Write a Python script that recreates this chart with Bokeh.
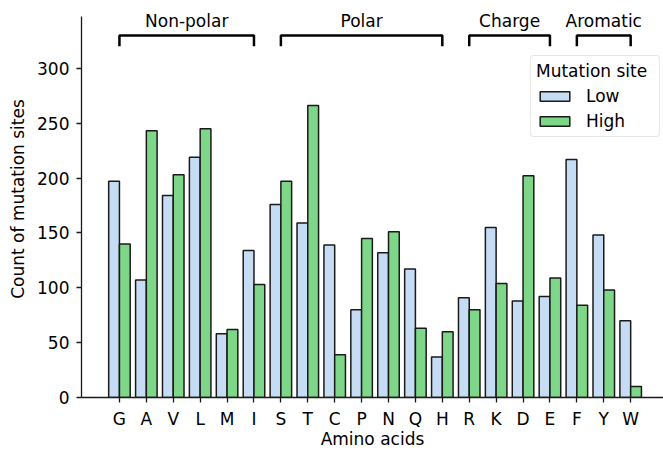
import numpy as np
from bokeh.plotting import figure
from bokeh.models import Range1d, FixedTicker, Legend, LegendItem, ColumnDataSource
from bokeh.core.properties import value
from bokeh.embed import file_html
from bokeh.resources import INLINE

categories = ["G", "A", "V", "L", "M", "I", "S", "T", "C", "P",
              "N", "Q", "H", "R", "K", "D", "E", "F", "Y", "W"]
low = [197, 107, 184, 219, 58, 134, 176, 159, 139, 80,
       132, 117, 37, 91, 155, 88, 92, 217, 148, 70]
high = [140, 243, 203, 245, 62, 103, 197, 266, 39, 145,
        151, 63, 60, 80, 104, 202, 109, 84, 98, 10]
group_names = ["Non-polar", "Polar", "Charge", "Aromatic"]
group_first = ["G", "S", "R", "F"]
group_last = ["I", "H", "E", "W"]

FONT = "DejaVu Sans"
FS = "17px"
LOW_COLOR = "#c5dcf4"
HIGH_COLOR = "#7ed789"
EDGE = "#1a1a1a"

idx = np.arange(len(categories))

p = figure(width=663, height=451, output_backend="svg", toolbar_location=None,
           x_range=Range1d(-1.41, 20.22), y_range=Range1d(0, 361.8),
           min_border_left=81, min_border_right=0, min_border_top=0,
           min_border_bottom=53)
p.outline_line_color = None
p.xgrid.visible = False
p.ygrid.visible = False
p.background_fill_color = "white"

src_low = ColumnDataSource(dict(x=idx - 0.2, top=low))
src_high = ColumnDataSource(dict(x=idx + 0.2, top=high))
r_low = p.vbar(x="x", top="top", width=0.4, bottom=0, source=src_low,
               fill_color=LOW_COLOR, line_color=EDGE, line_width=1.5)
r_high = p.vbar(x="x", top="top", width=0.4, bottom=0, source=src_high,
                fill_color=HIGH_COLOR, line_color=EDGE, line_width=1.5)

# group brackets
xs, ys = [], []
for a, b in zip(group_first, group_last):
    i0 = categories.index(a)
    i1 = categories.index(b)
    xs.append([i0, i0, i1, i1])
    ys.append([320, 330, 330, 320])
p.multi_line(xs=xs, ys=ys, line_color="black", line_width=2.5)
centers = [(categories.index(a) + categories.index(b)) / 2 for a, b in zip(group_first, group_last)]
p.text(x=centers, y=[343.5] * len(centers), text=group_names,
       text_font=value(FONT), text_font_size=FS, text_align="center",
       text_baseline="middle", text_color="black")

# axes
for ax in (p.xaxis[0], p.yaxis[0]):
    ax.axis_line_color = EDGE
    ax.axis_line_width = 1.3
    ax.major_tick_line_color = EDGE
    ax.major_tick_line_width = 1.3
    ax.major_tick_out = 5
    ax.major_tick_in = 0
    ax.minor_tick_line_color = None
    ax.major_label_text_font = FONT
    ax.major_label_text_font_size = FS
    ax.major_label_text_color = "black"
    ax.axis_label_text_font = FONT
    ax.axis_label_text_font_size = FS
    ax.axis_label_text_font_style = "normal"
    ax.axis_label_text_color = "black"

p.xaxis[0].ticker = FixedTicker(ticks=list(idx))
p.xaxis[0].major_label_overrides = {int(i): c for i, c in zip(idx, categories)}
p.xaxis[0].axis_label = "Amino acids"
p.xaxis[0].major_label_standoff = 6
p.xaxis[0].axis_label_standoff = -3

p.yaxis[0].ticker = FixedTicker(ticks=[0, 50, 100, 150, 200, 250, 300])
p.yaxis[0].bounds = (0, 347)
p.yaxis[0].axis_label = "Count of mutation sites"
p.yaxis[0].major_label_standoff = 7
p.yaxis[0].axis_label_standoff = 6

legend = Legend(items=[LegendItem(label="Low", renderers=[r_low]),
                       LegendItem(label="High", renderers=[r_high])],
                title="Mutation site", location=(449, 260))
legend.title_text_font = FONT
legend.title_text_font_size = FS
legend.title_text_font_style = "normal"
legend.title_text_color = "black"
legend.title_standoff = 5
legend.label_text_font = FONT
legend.label_text_font_size = FS
legend.label_text_color = "black"
legend.glyph_width = 37
legend.glyph_height = 12
legend.label_standoff = 13
legend.label_height = 20
legend.label_width = 68
legend.spacing = 5
legend.padding = 5
legend.border_line_color = "#d0d0d0"
legend.border_line_width = 1.2
legend.border_radius = 4
legend.background_fill_alpha = 0.85
p.add_layout(legend)

open("out.html", "w").write(file_html(p, INLINE))
